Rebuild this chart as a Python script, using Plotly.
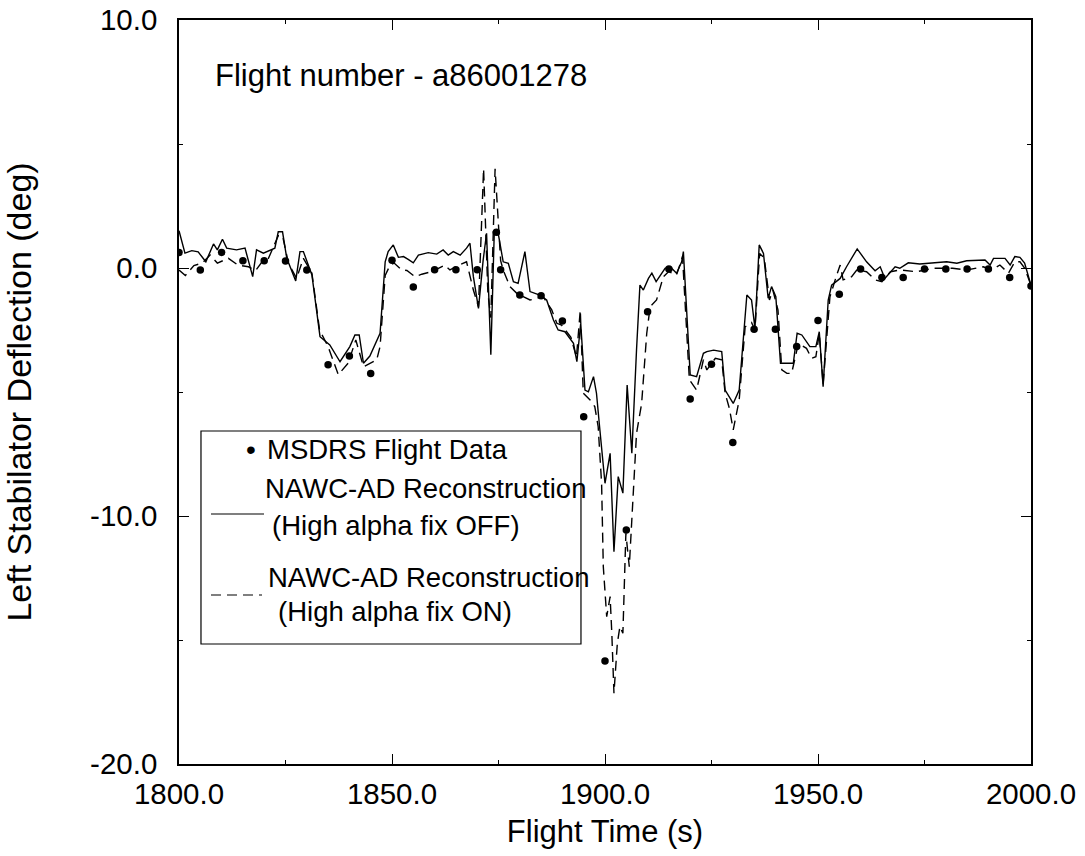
import plotly.graph_objects as go

# ---------------- data ----------------
msdrs_t = [1800, 1805, 1810, 1815, 1820, 1825, 1830, 1835, 1840, 1845,
           1850, 1855, 1860, 1865, 1870, 1874.5, 1875.5, 1880, 1885, 1890,
           1895, 1900, 1905, 1910, 1915, 1920, 1925, 1930, 1935, 1940,
           1945, 1950, 1955, 1960, 1965, 1970, 1975, 1980, 1985, 1990,
           1995, 2000]
msdrs_v = [0.62, -0.08, 0.63, 0.29, 0.29, 0.28, -0.08, -3.9, -3.55, -4.25,
           0.31, -0.77, -0.07, -0.07, -0.07, 1.44, -0.07, -1.09, -1.12, -2.14,
           -6.0, -15.85, -10.56, -1.76, -0.04, -5.28, -3.88, -7.04, -2.47, -2.47,
           -3.17, -2.12, -1.06, -0.04, -0.38, -0.38, -0.04, -0.04, -0.04, -0.04,
           -0.38, -0.73]

off_t = [1800.0, 1801.4, 1803.0, 1804.5, 1806.3, 1808.1, 1809.0, 1810.2, 1811.2, 1813.5,
         1815.5, 1817.3, 1818.2, 1819.8, 1822.5, 1823.3, 1824.3, 1825.3, 1827.4, 1828.4,
         1829.2, 1831.2, 1833.1, 1835.4, 1837.8, 1840.1, 1841.3, 1842.3, 1843.3, 1844.8,
         1847.2, 1848.4, 1849.1, 1850.3, 1851.5, 1852.7, 1853.8, 1855.0, 1856.2, 1858.5,
         1860.5, 1862.0, 1863.2, 1864.4, 1866.0, 1867.5, 1868.3, 1869.1, 1870.3, 1871.4,
         1872.2, 1873.2, 1874.0, 1875.0, 1876.1, 1877.3, 1878.5, 1879.6, 1881.2, 1882.4,
         1884.7, 1886.3, 1887.9, 1889.0, 1890.6, 1892.6, 1893.4, 1894.3, 1895.3, 1896.1,
         1897.3, 1898.0, 1898.8, 1900.0, 1901.2, 1902.1, 1903.1, 1904.2, 1905.2, 1906.3,
         1907.4, 1908.2, 1909.0, 1910.2, 1911.0, 1912.0, 1914.1, 1915.3, 1916.8, 1918.0,
         1918.4, 1920.0, 1921.5, 1923.1, 1923.9, 1925.5, 1927.4, 1928.2, 1930.1, 1931.5,
         1933.3, 1934.4, 1935.2, 1936.2, 1937.2, 1938.3, 1939.1, 1940.1, 1941.2, 1944.2,
         1945.1, 1946.2, 1948.1, 1949.5, 1950.3, 1951.2, 1952.4, 1953.2, 1955.2, 1956.7,
         1959.2, 1961.4, 1963.4, 1964.6, 1965.7, 1968.1, 1969.2, 1971.2, 1973.9, 1977.1,
         1980.2, 1982.6, 1984.9, 1989.2, 1990.4, 1991.2, 1993.9, 1995.1, 1996.2, 1997.4,
         1998.5, 2000.0]
off_v = [1.5, 0.6, 0.7, 0.65, 0.25, 0.97, 0.73, 1.16, 0.8, 0.73,
         0.8, -0.35, 0.73, 0.6, 0.8, 1.46, 1.46, 0.39, -0.52, 0.66,
         0.66, -0.28, -2.77, -3.1, -3.78, -3.17, -2.7, -2.7, -3.84, -3.55,
         -2.63, 0.25, 0.66, 0.93, 0.43, 0.46, 0.35, 0.21, 0.52, 0.62,
         0.56, 0.73, 0.52, 0.66, 0.52, 0.8, 1.0, -0.35, -1.63, 0.32,
         1.4, -3.5, 1.4, 1.33, 0.25, 0.19, -0.55, -0.62, 0.66, -0.95,
         -1.09, -1.29, -2.1, -2.5, -2.57, -3.04, -3.78, -2.23, -4.92, -4.99,
         -4.38, -5.05, -6.53, -8.68, -7.47, -11.44, -8.41, -9.08, -4.72, -7.47,
         -3.31, -0.69, -0.89, -0.42, -0.21, -0.55, -0.01, 0.05, -0.21, 0.25,
         0.66, -4.31, -4.38, -3.44, -3.37, -3.31, -3.37, -4.92, -5.46, -4.92,
         -1.09, -1.29, -2.43, 0.93, 0.59, -1.22, -0.75, -1.16, -3.84, -3.84,
         -2.63, -2.7, -3.17, -3.17, -2.57, -4.79, -1.29, -0.69, -0.42, 0.05,
         0.77, 0.25, -0.11, 0.05, -0.42, 0.05, -0.01, 0.21, 0.16, 0.21,
         0.25, 0.19, 0.29, 0.32, 0.12, 0.39, 0.39, 0.12, 0.46, 0.43,
         0.2, -0.7]

on_t = [1800.0, 1801.5, 1803.5, 1805.5, 1807.3, 1809.0, 1811.6, 1813.8, 1816.3, 1818.0,
        1819.5, 1821.0, 1823.3, 1824.3, 1825.7, 1826.8, 1827.6, 1829.2, 1831.2, 1833.0,
        1835.0, 1837.4, 1839.7, 1841.5, 1843.3, 1846.4, 1847.2, 1848.4, 1849.5, 1850.5,
        1852.3, 1853.5, 1855.4, 1857.0, 1859.3, 1862.4, 1863.6, 1865.5, 1867.5, 1869.1,
        1870.3, 1871.5, 1872.5, 1873.2, 1874.2, 1875.5, 1876.1, 1877.7, 1879.3, 1882.4,
        1885.5, 1887.5, 1888.7, 1889.8, 1892.0, 1893.3, 1894.2, 1894.9, 1896.5, 1897.6,
        1898.4, 1899.2, 1899.6, 1900.4, 1901.2, 1901.6, 1902.1, 1902.9, 1903.5, 1904.2,
        1904.9, 1905.7, 1906.5, 1907.4, 1908.6, 1909.8, 1910.6, 1912.1, 1913.7, 1914.9,
        1916.8, 1918.2, 1919.8, 1921.5, 1923.1, 1923.9, 1925.9, 1927.4, 1928.2, 1929.2,
        1930.1, 1931.5, 1932.9, 1934.4, 1935.2, 1936.3, 1937.4, 1938.6, 1939.4, 1940.6,
        1941.5, 1942.7, 1943.8, 1945.4, 1947.3, 1948.5, 1949.5, 1950.3, 1951.2, 1952.8,
        1954.4, 1955.2, 1955.9, 1957.9, 1959.1, 1961.4, 1963.4, 1965.0, 1967.0, 1969.2,
        1973.2, 1977.1, 1981.6, 1984.9, 1988.8, 1990.8, 1992.7, 1994.7, 1996.2, 1997.4,
        1998.5, 2000.0]
on_v = [-0.08, -0.3, 0.1, 0.2, 0.52, 0.2, 0.39, 0.12, 0.05, -0.1,
        0.25, 0.39, 1.3, 1.3, 0.19, -0.15, -0.42, 0.39, -0.21, -2.5,
        -3.17, -4.3, -3.84, -2.9, -3.98, -3.71, -3.17, -0.3, 0.1, 0.2,
        -0.08, -0.1, -0.35, -0.25, -0.15, 0.12, -0.08, 0.1, 0.25, -0.89,
        -1.56, 4.0, -1.0, -2.0, 4.0, 0.3, -0.08, -0.75, -1.02, -1.29,
        -1.16, -1.69, -2.23, -2.3, -2.8, -3.6, -1.69, -5.05, -5.32, -5.59,
        -6.4, -8.68, -12.04, -14.06, -13.25, -14.73, -17.15, -15.13, -14.46, -14.73,
        -10.7, -12.04, -9.35, -6.67, -5.46, -2.63, -1.56, -1.29, -0.35, -0.15,
        -0.28, 0.46, -4.5, -4.92, -3.7, -4.11, -3.64, -3.7, -5.05, -5.66,
        -6.53, -5.32, -2.37, -2.2, -2.5, 0.59, 0.39, -1.29, -0.89, -1.69,
        -4.11, -4.25, -4.25, -3.04, -3.24, -3.64, -3.58, -2.63, -4.7, -1.16,
        -0.28, 0.12, -0.48, -0.35, -0.08, -0.15, -0.48, -0.55, -0.15, -0.08,
        -0.15, -0.01, -0.01, -0.08, 0.05, -0.08, 0.12, -0.21, 0.25, 0.25,
        0.0, -0.7]

x_ticks = [1800, 1850, 1900, 1950, 2000]
x_ticktext = ["1800.0", "1850.0", "1900.0", "1950.0", "2000.0"]
y_ticks = [-20, -10, 0, 10]
y_ticktext = ["-20.0", "-10.0", "0.0", "10.0"]

title_text = "Flight number - a86001278"
legend_labels = ["MSDRS Flight Data",
                 "NAWC-AD Reconstruction", "(High alpha fix OFF)",
                 "NAWC-AD Reconstruction", "(High alpha fix ON)"]

# ---------------- figure ----------------
FONT = "Liberation Sans, Arial, Helvetica, sans-serif"
fig = go.Figure()

fig.add_trace(go.Scatter(x=off_t, y=off_v, mode="lines", name="NAWC-AD Reconstruction (High alpha fix OFF)",
                         line=dict(color="black", width=1.4), showlegend=False))
fig.add_trace(go.Scatter(x=on_t, y=on_v, mode="lines", name="NAWC-AD Reconstruction (High alpha fix ON)",
                         line=dict(color="black", width=1.4, dash="10px,6px"), showlegend=False))
fig.add_trace(go.Scatter(x=msdrs_t, y=msdrs_v, mode="markers", name="MSDRS Flight Data",
                         marker=dict(color="black", size=7.5), showlegend=False))

axis_common = dict(
    showline=True, linecolor="black", linewidth=1.5, mirror="allticks",
    ticks="inside", ticklen=10, tickwidth=1.2, tickcolor="black",
    showgrid=False, zeroline=False, automargin=False, ticklabeloverflow="allow",
    tickfont=dict(family=FONT, size=29.5, color="black"),
)

fig.update_xaxes(range=[1800, 2000], tickmode="array", tickvals=x_ticks, ticktext=x_ticktext,
                 minor=dict(tick0=1800, dtick=25, ticks="inside", ticklen=4, tickcolor="black"),
                 ticklabelstandoff=3,
                 title=dict(text="Flight Time (s)", font=dict(family=FONT, size=31, color="black"),
                            standoff=11),
                 **axis_common)
fig.update_yaxes(range=[-20, 10], tickmode="array", tickvals=y_ticks, ticktext=y_ticktext,
                 minor=dict(tick0=0, dtick=5, ticks="inside", ticklen=4, tickcolor="black"),
                 ticklabelstandoff=14,
                 title=dict(text="Left Stabilator Deflection (deg)",
                            font=dict(family=FONT, size=34, color="black"), standoff=51),
                 **axis_common)

# in-plot title
fig.add_annotation(text=title_text, xref="paper", yref="paper", x=0.040, y=0.926,
                   xanchor="left", yanchor="middle", showarrow=False,
                   font=dict(family=FONT, size=31, color="black"))

# legend box drawn manually to mimic the original layout
lx0, lx1, ly0, ly1 = 0.0258, 0.4718, 0.1613, 0.4476
fig.add_shape(type="rect", xref="paper", yref="paper", x0=lx0, x1=lx1, y0=ly0, y1=ly1,
              line=dict(color="black", width=1.2), fillcolor="white", layer="above")

def py(p):  # screen pixel row -> paper y
    return (764 - p) / 744.0

def px(p):  # screen pixel column -> paper x
    return (p - 179) / 852.0

fig.add_annotation(text="•", xref="paper", yref="paper", x=px(251), y=py(450),
                   xanchor="center", yanchor="middle", showarrow=False,
                   font=dict(family=FONT, size=28, color="black"))
text_rows = [(265, 450), (263, 488), (270, 525), (266, 577), (276, 611)]
for lab, (cx, cy) in zip(legend_labels, text_rows):
    fig.add_annotation(text=lab, xref="paper", yref="paper", x=px(cx), y=py(cy),
                       xanchor="left", yanchor="middle", showarrow=False,
                       font=dict(family=FONT, size=27.5, color="black"))
fig.add_shape(type="line", xref="paper", yref="paper", x0=px(211), x1=px(264), y0=py(514), y1=py(514),
              line=dict(color="black", width=1.2))
fig.add_shape(type="line", xref="paper", yref="paper", x0=px(211), x1=px(262), y0=py(595), y1=py(595),
              line=dict(color="black", width=1.2, dash="10px,6px"))

fig.update_layout(width=1085, height=856, margin=dict(l=179, r=54, t=20, b=92),
                  paper_bgcolor="white", plot_bgcolor="white", showlegend=False,
                  font=dict(family=FONT, color="black"))

# remove the default 8px page margin so the figure fills the window exactly
fig.write_html("out.html", config={"displayModeBar": False},
               post_script="document.body.style.margin='0';document.body.style.overflow='hidden';")
